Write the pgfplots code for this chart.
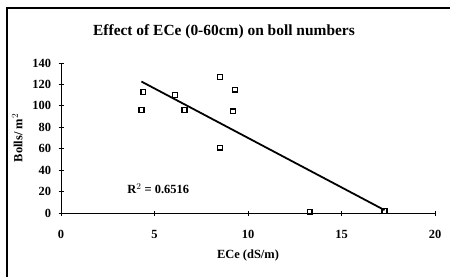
\documentclass[border=0pt]{standalone}
\usepackage{pgfplots}
\pgfplotsset{compat=1.18}
\usepackage{fontspec}
\setmainfont{Liberation Serif}
\begin{document}
\begin{tikzpicture}[x=1bp,y=1bp]
\useasboundingbox (0,0) rectangle (450,277);
\draw[line width=2.2bp] (7,0) -- (7,269) -- (450,269);
\node[font=\bfseries\fontsize{15.5}{17}\selectfont] at (224,245) {Effect of ECe (0-60cm) on boll numbers};
\begin{axis}[
  at={(61bp,64bp)}, anchor=south west,
  scale only axis, width=374bp, height=150bp,
  xmin=0, xmax=20, ymin=0, ymax=140,
  axis lines=left, axis line style={line width=1pt,-},
  xtick={0,5,10,15,20}, ytick={0,20,40,60,80,100,120,140},
  tick align=center, major tick length=5bp, tick style={line width=0.8pt,black},
  ticklabel style={font=\bfseries\fontsize{12.5}{14}\selectfont},
  xticklabel style={yshift=-11bp},
  yticklabel style={xshift=-4bp},
  /pgf/number format/assume math mode=true,
  xlabel={ECe (dS/m)}, ylabel={Bolls/ m$^2$},
  label style={font=\bfseries\fontsize{12.5}{14}\selectfont},
  xlabel style={yshift=-5bp}, ylabel style={yshift=3bp},
  clip=false,
]
\addplot[only marks, mark=square, mark size=2.4bp, mark options={line width=1.4pt, black}] coordinates {
 (4.3,96) (4.4,113) (6.1,110) (6.6,96) (8.5,127) (9.3,115) (9.2,95) (8.5,61) (13.3,1) (17.3,2)
};
\addplot[black, line width=1.8pt] coordinates {(4.3,122.7) (17.3,2.7)};
\node[font=\bfseries\fontsize{12.5}{14}\selectfont] at (axis cs:5.2,22.5) {R$^2$ = 0.6516};
\end{axis}
\end{tikzpicture}
\end{document}
